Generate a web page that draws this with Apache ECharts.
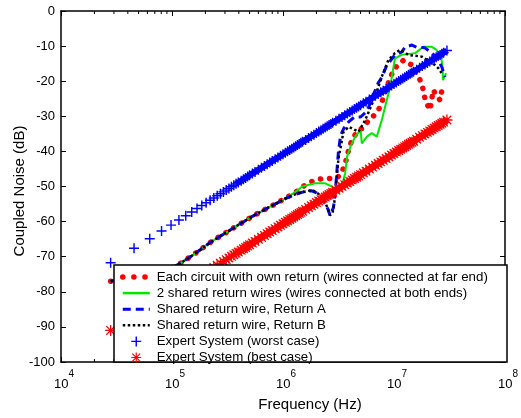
<!DOCTYPE html>
<html>
<head>
<meta charset="utf-8">
<script src="https://cdn.jsdelivr.net/npm/echarts@6/dist/echarts.min.js"></script>
<style>html,body{margin:0;padding:0;background:#fff}#c{width:521px;height:418px}</style>
</head>
<body>
<div id="c"></div>
<script>
// ---- Data (frequencies in MHz, coupled noise in dB) ----
const seriesNames = [
  'Each circuit with own return (wires connected at far end)',
  '2 shared return wires (wires connected at both ends)',
  'Shared return wire, Return A',
  'Shared return wire, Return B',
  'Expert System (worst case)',
  'Expert System (best case)'
];

const ownFreqMHz = [0.028,0.05,0.08,0.1,0.12,0.15,0.18,0.22,0.27,0.32,0.38,0.45,0.53,0.63,0.75,0.9,1.06,1.25,1.58,1.95,2.34,2.75,3.07,3.3,3.6,3.9,4.2,4.8,5.3,5.9,6.5,7.25,7.8,8.3,9.0,10,12.2,14.5,17.2,18.4,19.1,21.1,21.9,22.6,24,26,27,29.5];
const ownDb = [-77.0,-75.6,-74.2,-73.2,-71.8,-69.8,-68.0,-66.0,-64.2,-62.8,-61.3,-59.9,-58.5,-57.2,-55.9,-54.6,-53.2,-52.0,-49.6,-48.1,-47.7,-47.7,-47.5,-46.5,-44.0,-39.6,-36.5,-33.9,-33.3,-31.1,-30.0,-28.2,-25.8,-23.4,-20.0,-16.5,-14.0,-15.4,-19.7,-22.5,-25.4,-28.2,-25.0,-22.5,-24.0,-25.4,-22.5,-22.0];

const bothFreqMHz = [0.028,0.05,0.08,0.1,0.12,0.15,0.18,0.22,0.27,0.32,0.38,0.45,0.53,0.63,0.75,0.9,1.06,1.3,1.49,1.95,2.4,2.75,3.07,3.39,3.63,3.78,4.05,4.47,5.0,5.13,5.7,6.3,7.0,7.76,8.6,9.25,9.9,10.2,11.7,15.5,18.4,21.9,24.2,26.9,27.5,27.6,29.5];
const bothDb = [-77.0,-75.6,-74.2,-73.2,-71.8,-69.8,-68.0,-66.0,-64.2,-62.8,-61.3,-59.9,-58.5,-57.2,-55.9,-54.6,-53.3,-51.5,-50.0,-49.1,-49.1,-50.0,-51.5,-50.0,-46.2,-41.5,-38.7,-35.8,-33.9,-37.7,-35.8,-34.8,-35.8,-31.1,-25.4,-21.6,-15.9,-13.5,-12.5,-12.0,-10.2,-10.2,-11.1,-14.0,-17.3,-19.7,-17.7];

const retAFreqMHz = [0.028,0.05,0.08,0.1,0.12,0.15,0.18,0.22,0.27,0.32,0.38,0.45,0.53,0.63,0.75,0.9,1.06,1.25,1.5,1.8,2.0,2.2,2.4,2.55,2.65,2.75,2.85,2.95,3.07,3.16,3.3,3.55,3.9,4.4,5.0,5.5,5.9,6.5,7.2,7.8,8.6,10.2,11.7,12.6,14.5,16,19,22,25,27,28.8];
const retADb = [-77.0,-75.6,-74.2,-73.2,-71.8,-69.8,-68.0,-66.0,-64.2,-62.8,-61.3,-59.9,-58.5,-57.2,-55.9,-54.6,-53.4,-52.4,-51.6,-51.2,-51.8,-53.0,-54.8,-56.6,-58.2,-58.0,-56.0,-52.0,-45.0,-40.0,-35.5,-33.3,-31.6,-30.2,-30.2,-29.0,-27.4,-24.0,-20.5,-18.8,-15.5,-12.5,-11.7,-10.3,-9.7,-10.3,-10.5,-12.0,-14.0,-16.0,-18.8];

const retBFreqMHz = [0.028,0.05,0.08,0.1,0.12,0.15,0.18,0.22,0.27,0.32,0.38,0.45,0.53,0.63,0.75,0.9,1.06,1.25,1.5,1.83,2.0,2.2,2.4,2.55,2.65,2.72,2.8,2.95,3.07,3.16,3.3,3.5,3.9,4.2,4.8,5.5,6.76,7.76,8.9,10.2,11.35,13.5,17.8,23.4,25.1,26.9];
const retBDb = [-77.0,-75.6,-74.2,-73.2,-71.8,-69.8,-68.0,-66.0,-64.2,-62.8,-61.3,-59.9,-58.5,-57.2,-55.9,-54.6,-53.4,-52.4,-51.6,-51.0,-51.6,-52.8,-54.6,-56.5,-58.2,-58.6,-57.5,-52.9,-46.2,-42.0,-39.0,-34.5,-33.0,-33.5,-34.4,-31.1,-24.4,-18.7,-14.0,-12.0,-11.1,-12.5,-13.0,-15.4,-16.3,-17.7];

const expertFreqMHz = [0.028,0.0455,0.063,0.0805,0.098,0.1155,0.133,0.1505,0.168,0.1855,
  0.203,0.2205,0.238,0.2555,0.273,0.2905,0.308,0.3255,0.343,0.3605,
  0.378,0.3955,0.42,0.44,0.46,0.48,0.50,0.53,0.56,0.60,
  0.64,0.68,0.72,0.76,0.80,0.85,0.90,0.95,1.0,1.05,
  1.1,1.15,1.2,1.25,1.3,1.35,1.4,1.45,1.5,1.6,
  1.7,1.8,1.9,2.0,2.1,2.2,2.3,2.4,2.5,2.6,
  2.7,2.8,3.0,3.2,3.4,3.6,3.8,4.0,4.2,4.4,
  4.6,4.8,5.0,5.3,5.6,6.0,6.4,6.8,7.2,7.6,
  8.0,8.5,9.0,9.5,10,10.5,11,11.5,12,12.5,
  13,13.5,14,14.5,15,16,17,18,19,20,
  21,22,23,24,25,26,27,28,30];
const worstDb = [-71.7,-67.6,-64.9,-62.7,-61.0,-59.55,-58.32,-57.25,-56.29,-55.43,
  -54.65,-53.93,-53.27,-52.65,-52.08,-51.54,-51.03,-50.55,-50.09,-49.66,
  -49.25,-48.86,-48.34,-47.93,-47.55,-47.18,-46.82,-46.31,-45.84,-45.24,
  -44.68,-44.15,-43.65,-43.18,-42.74,-42.21,-41.72,-41.25,-40.8,-40.38,
  -39.97,-39.59,-39.22,-38.86,-38.52,-38.19,-37.88,-37.57,-37.28,-36.72,
  -36.19,-35.70,-35.23,-34.78,-34.36,-33.95,-33.57,-33.20,-32.84,-32.50,
  -32.17,-31.86,-31.26,-30.70,-30.17,-29.67,-29.20,-28.76,-28.34,-27.93,
  -27.55,-27.18,-26.82,-26.31,-25.84,-25.24,-24.68,-24.15,-23.65,-23.18,
  -22.74,-22.21,-21.72,-21.25,-20.8,-20.38,-19.97,-19.59,-19.22,-18.86,
  -18.52,-18.19,-17.88,-17.57,-17.28,-16.72,-16.19,-15.70,-15.23,-14.78,
  -14.36,-13.95,-13.57,-13.20,-12.84,-12.50,-12.17,-11.86,-11.26];
const bestDb = [-91.0,-87.4,-84.7,-82.5,-80.8,-79.35,-78.12,-77.05,-76.09,-75.23,
  -74.45,-73.73,-73.07,-72.45,-71.88,-71.34,-70.83,-70.35,-69.89,-69.46,
  -69.05,-68.66,-68.14,-67.73,-67.35,-66.98,-66.62,-66.11,-65.64,-65.04,
  -64.48,-63.95,-63.45,-62.98,-62.54,-62.01,-61.52,-61.05,-60.6,-60.18,
  -59.77,-59.39,-59.02,-58.66,-58.32,-57.99,-57.68,-57.37,-57.08,-56.52,
  -55.99,-55.50,-55.03,-54.58,-54.16,-53.75,-53.37,-53.00,-52.64,-52.30,
  -51.97,-51.66,-51.06,-50.50,-49.97,-49.47,-49.00,-48.56,-48.14,-47.73,
  -47.35,-46.98,-46.62,-46.11,-45.64,-45.04,-44.48,-43.95,-43.45,-42.98,
  -42.54,-42.01,-41.52,-41.05,-40.6,-40.18,-39.77,-39.39,-39.02,-38.66,
  -38.32,-37.99,-37.68,-37.37,-37.08,-36.52,-35.99,-35.50,-35.03,-34.58,
  -34.16,-33.75,-33.37,-33.00,-32.64,-32.30,-31.97,-31.66,-31.06];
// index in the expert arrays where the markers start to merge into a solid band
const denseStart = 20;

// Axis ticks
const xMajorTicksHz = [1e4, 1e5, 1e6, 1e7, 1e8];
const xMinorMantissas = [2, 3, 4, 5, 6, 7, 8, 9];

// ---- Build ----
const FONT = '"Liberation Sans", Arial, Helvetica, sans-serif';
const toPairs = (fs, ds) => fs.map((f, i) => [f * 1e6, ds[i]]);
const minorTicks = [];
xMajorTicksHz.slice(0, -1).forEach(d => xMinorMantissas.forEach(m => minorTicks.push([d * m, 0])));

const plusPath = 'path://M3,0h1v3h3v1h-3v3h-1v-3h-3v-1h3z';
const starPath = 'path://M0,4.4L10,4.4L10,5.6L0,5.6Z M4.4,0L5.6,0L5.6,10L4.4,10Z M1.5,0.7L9.3,8.5L8.5,9.3L0.7,1.5Z M8.5,0.7L9.3,1.5L1.5,9.3L0.7,8.5Z';

const chart = echarts.init(document.getElementById('c'), null, {renderer: 'canvas'});

const axisCommon = {
  axisLine: {show: true, onZero: false, lineStyle: {color: '#000', width: 1.5}},
  axisTick: {show: true, inside: true, length: 5, lineStyle: {color: '#000', width: 1}},
  splitLine: {show: false}
};
const hideSym = {opacity: 0};

chart.setOption({
  animation: false,
  backgroundColor: '#fff',
  grid: {left: 61, top: 11, width: 446, height: 351, containLabel: false},
  xAxis: [
    Object.assign({
      type: 'log', logBase: 10, min: 1e4, max: 1e8, position: 'bottom',
      axisLabel: {
        show: true, margin: 5, color: '#000', fontFamily: FONT,
        formatter: v => '{b|10}{s|' + Math.round(Math.log10(v)) + '}',
        rich: {
          b: {fontSize: 13, fontFamily: FONT, color: '#000', padding: [0, 0, 0, 6], verticalAlign: 'bottom', lineHeight: 24},
          s: {fontSize: 10, fontFamily: FONT, color: '#000', padding: [0, 0, 12, 0], verticalAlign: 'bottom', lineHeight: 12}
        }
      }
    }, axisCommon),
    Object.assign({
      type: 'log', logBase: 10, min: 1e4, max: 1e8, position: 'top',
      axisLabel: {show: false}
    }, axisCommon)
  ],
  yAxis: [
    Object.assign({
      type: 'value', min: -100, max: 0, interval: 10, position: 'left',
      axisLabel: {show: true, margin: 6, color: '#000', fontSize: 13, fontFamily: FONT}
    }, axisCommon),
    Object.assign({
      type: 'value', min: -100, max: 0, interval: 10, position: 'right',
      axisLabel: {show: false}
    }, axisCommon)
  ],
  legend: {
    orient: 'vertical', left: 120, top: 270, padding: 0,
    itemWidth: 27, itemHeight: 10, itemGap: 2.1,
    textStyle: {fontSize: 13.3, fontFamily: FONT, color: '#000', lineHeight: 14, padding: [0, 0, 0, 2]},
    data: [
      {name: seriesNames[0], itemStyle: hideSym, lineStyle: {width: 5.5, type: [0.1, 11], cap: 'round', color: '#ff0000'}},
      {name: seriesNames[1], itemStyle: hideSym, lineStyle: {width: 2.5, color: '#00e600'}},
      {name: seriesNames[2], itemStyle: hideSym, lineStyle: {width: 3, type: [8, 5], color: '#0000ff'}},
      {name: seriesNames[3], itemStyle: hideSym, lineStyle: {width: 2.5, type: [2.5, 2.5], color: '#000'}},
      {name: seriesNames[4], icon: plusPath},
      {name: seriesNames[5], icon: starPath}
    ]
  },
  graphic: [
    {type: 'rect', z: 3, shape: {x: 114, y: 265, width: 393, height: 97},
     style: {fill: '#fff', stroke: '#000', lineWidth: 1.5}},
    {type: 'text', z: 5, style: {text: 'Frequency (Hz)', x: 310, y: 405, align: 'center', verticalAlign: 'middle',
      font: '15px ' + FONT, fill: '#000'}},
    {type: 'text', z: 5, x: 20, y: 191, rotation: Math.PI / 2,
     style: {text: 'Coupled Noise (dB)', x: 0, y: 0, align: 'center', verticalAlign: 'middle',
      font: '15px ' + FONT, fill: '#000'}}
  ],
  series: [
    {
      type: 'custom', silent: true, z: 1, clip: false,
      data: minorTicks,
      renderItem: (params, api) => {
        const f = api.value(0);
        const t = api.coord([f, 0]);
        const b = api.coord([f, -100]);
        return {type: 'group', children: [
          {type: 'line', shape: {x1: t[0], y1: t[1], x2: t[0], y2: t[1] + 3}, style: {stroke: '#000', lineWidth: 1}},
          {type: 'line', shape: {x1: b[0], y1: b[1], x2: b[0], y2: b[1] - 3}, style: {stroke: '#000', lineWidth: 1}}
        ]};
      }
    },
    {
      name: seriesNames[0], type: 'line', symbol: 'none', z: 2,
      data: toPairs(ownFreqMHz, ownDb),
      lineStyle: {color: '#ff0000', width: 5.5, type: [0.1, 9], cap: 'round'},
      itemStyle: {color: '#ff0000'}
    },
    {
      name: seriesNames[1], type: 'line', symbol: 'none', z: 2,
      data: toPairs(bothFreqMHz, bothDb),
      lineStyle: {color: '#00e600', width: 2},
      itemStyle: {color: '#00e600'}
    },
    {
      name: seriesNames[2], type: 'line', symbol: 'none', z: 2,
      data: toPairs(retAFreqMHz, retADb),
      lineStyle: {color: '#0000ff', width: 3, type: [8, 5]},
      itemStyle: {color: '#0000ff'}
    },
    {
      name: seriesNames[3], type: 'line', symbol: 'none', z: 2,
      data: toPairs(retBFreqMHz, retBDb),
      lineStyle: {color: '#000', width: 2.5, type: [2.5, 2.5]},
      itemStyle: {color: '#000'}
    },
    // solid core of the dense worst-case marker band
    {
      type: 'line', symbol: 'none', z: 2, silent: true,
      data: toPairs(expertFreqMHz.slice(denseStart), worstDb.slice(denseStart)),
      lineStyle: {color: '#0000ff', width: 6}
    },
    {
      name: seriesNames[4], type: 'scatter', z: 2,
      symbol: plusPath, symbolSize: 10,
      data: toPairs(expertFreqMHz, worstDb),
      itemStyle: {color: '#0000ff', opacity: 1}
    },
    // solid core of the dense best-case marker band
    {
      type: 'line', symbol: 'none', z: 2, silent: true,
      data: toPairs(expertFreqMHz.slice(denseStart), bestDb.slice(denseStart)),
      lineStyle: {color: '#ff0000', width: 7}
    },
    {
      name: seriesNames[5], type: 'scatter', z: 2,
      symbol: starPath, symbolSize: 11,
      data: toPairs(expertFreqMHz, bestDb),
      itemStyle: {color: '#ff0000', opacity: 1}
    }
  ]
});
</script>
</body>
</html>
